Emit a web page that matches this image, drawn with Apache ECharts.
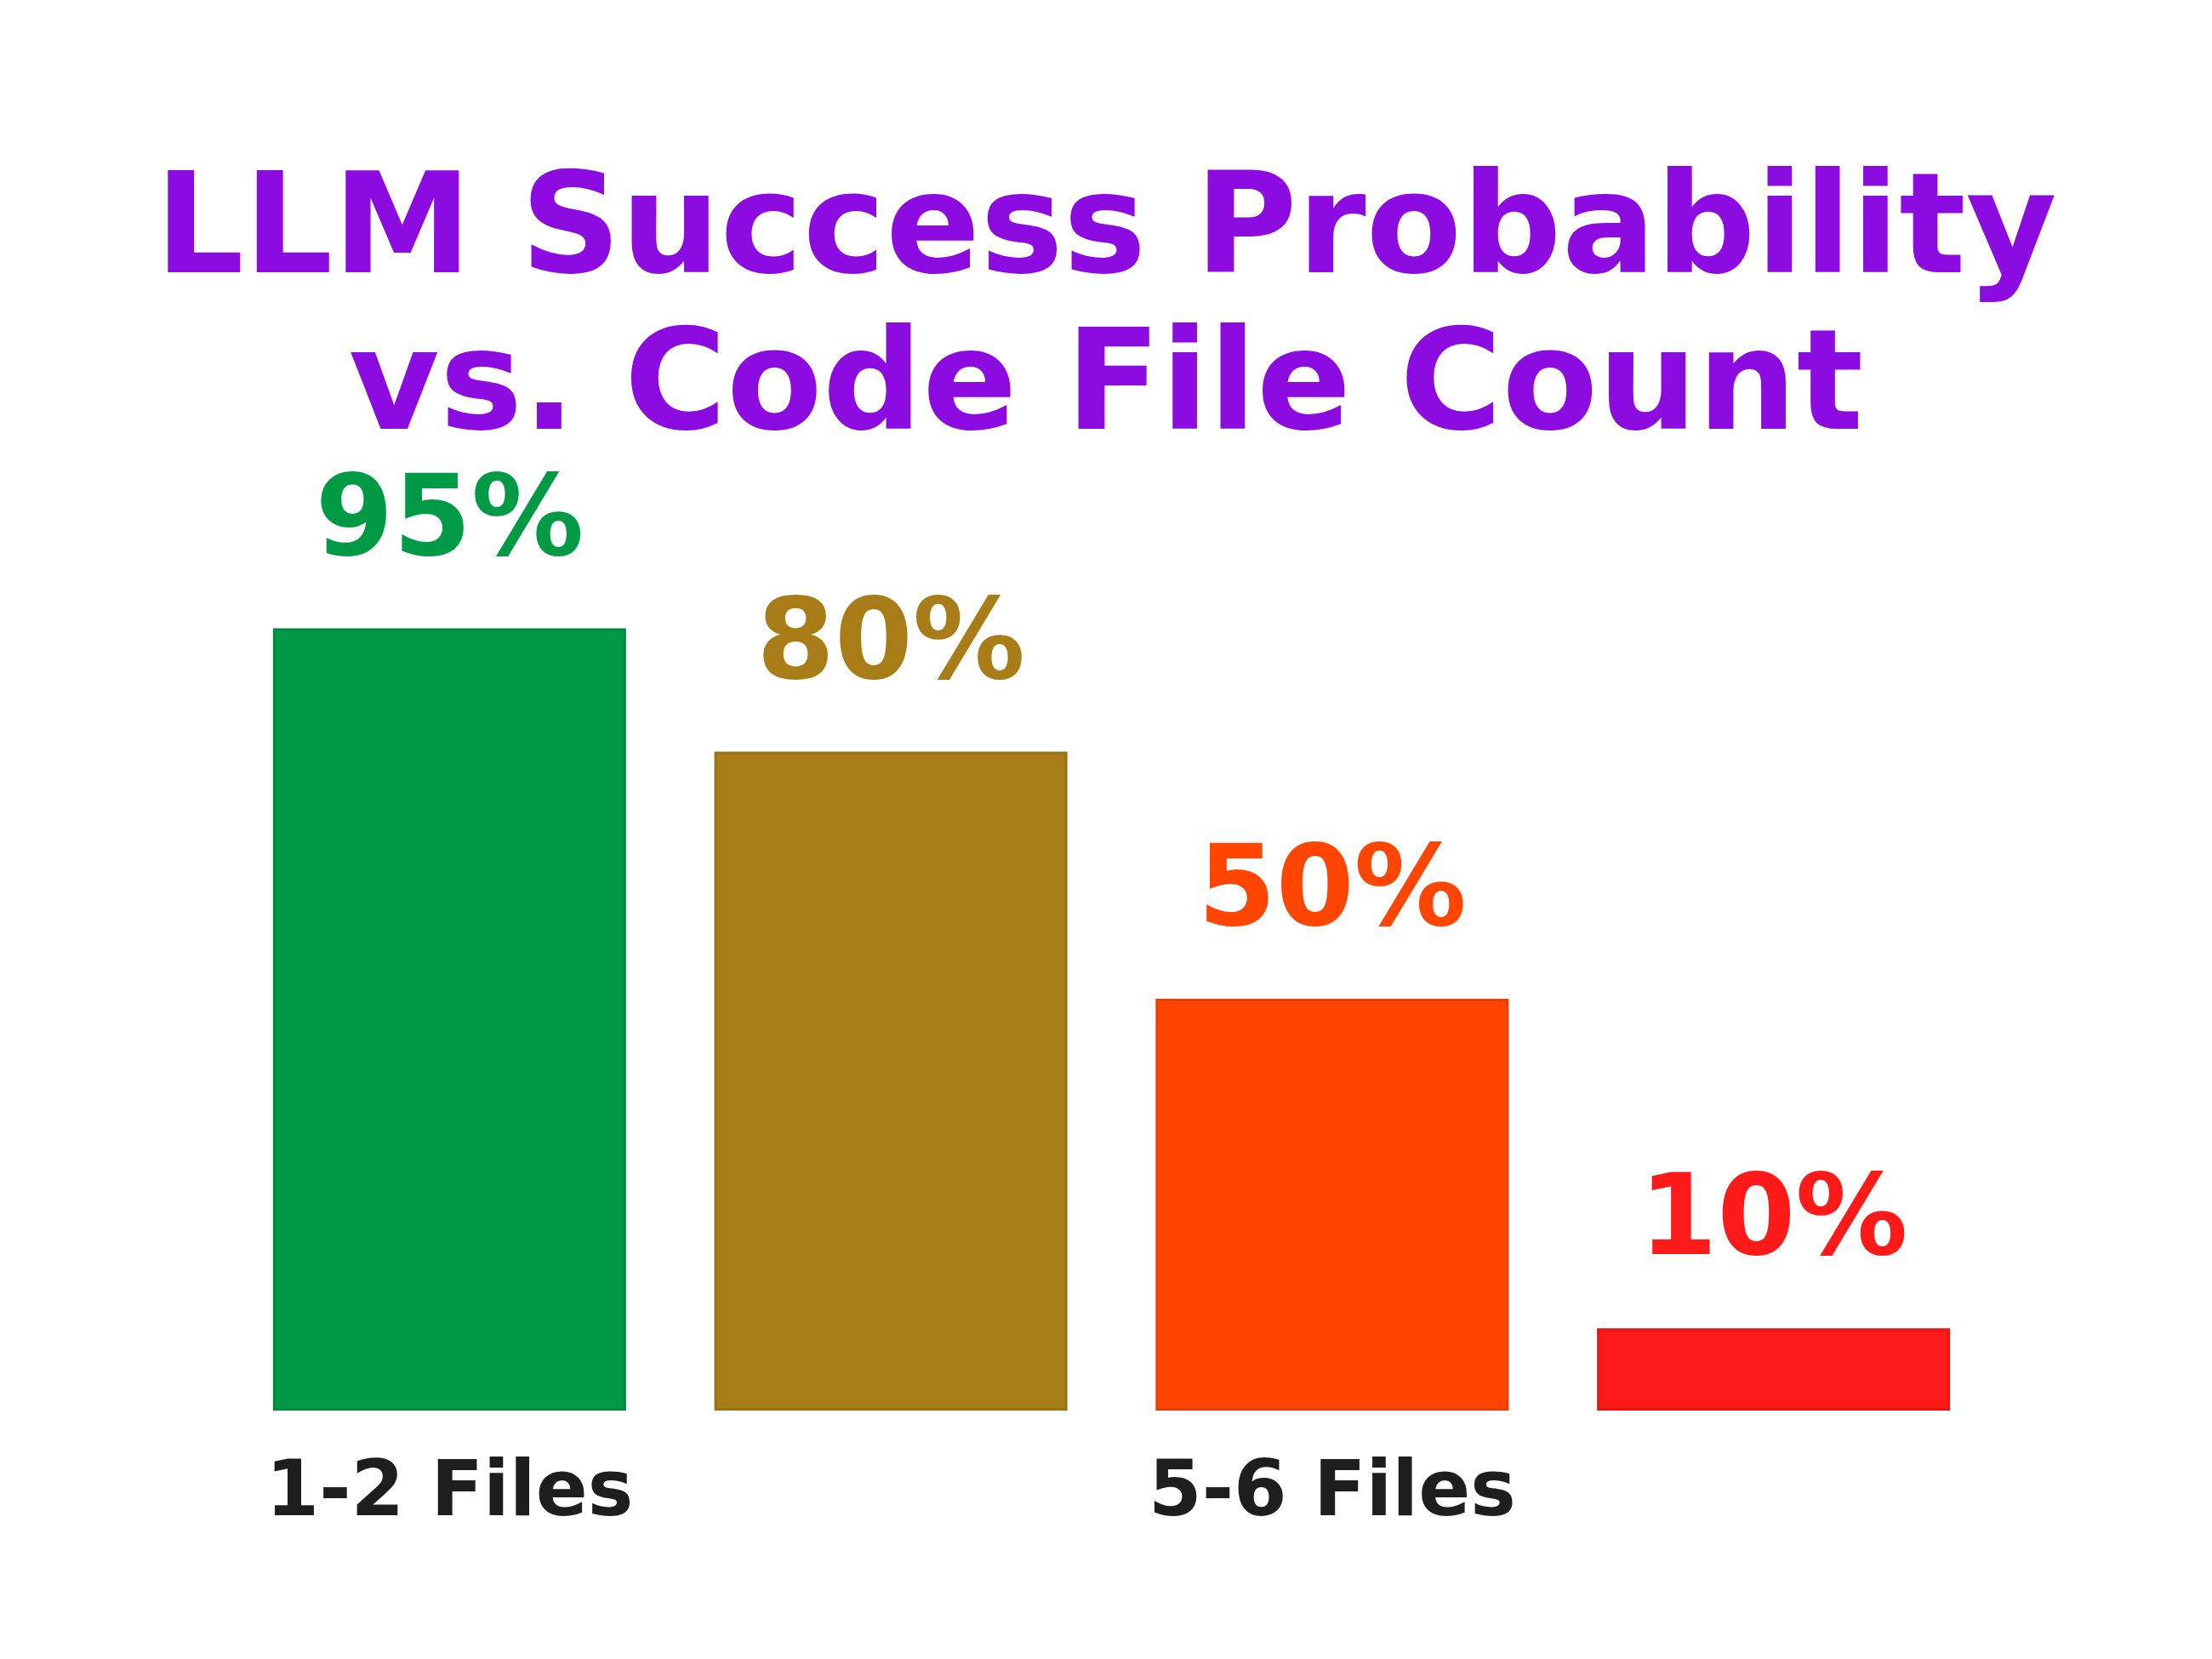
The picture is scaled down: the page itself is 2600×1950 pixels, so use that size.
<!DOCTYPE html>
<html>
<head>
<meta charset="utf-8">
<script src="https://cdn.jsdelivr.net/npm/echarts@6/dist/echarts.min.js"></script>
<style>html,body{margin:0;background:#fff}#chart{width:2600px;height:1950px}</style>
</head>
<body>
<div id="chart"></div>
<script>
var categories = ['1-2 Files', '3-4 Files', '5-6 Files', '20+ Files'];
var successValues = [95, 80, 50, 10];
var barColors = ['#009A47', '#A87D18', '#FF4500', '#FF1A1A'];
var borderColors = ['#008A40', '#987015', '#E83E00', '#E81515'];

var chart = echarts.init(document.getElementById('chart'));
var option = {
    backgroundColor: '#fff',
    title: {
        text: 'LLM Success Probability\nvs. Code File Count',
        left: 'center',
        top: 180,
        textStyle: {
            fontFamily: 'DejaVu Sans',
            fontWeight: 'bold',
            fontSize: 164,
            lineHeight: 184,
            color: '#8B0BE0'
        }
    },
    grid: { left: 269, right: 256, top: 690, bottom: 292 },
    xAxis: {
        type: 'category',
        data: categories,
        axisLine: { show: false },
        axisTick: { show: false },
        axisLabel: {
            margin: 55,
            fontFamily: 'DejaVu Sans',
            fontWeight: 'bold',
            fontSize: 90,
            color: '#1E1E1E'
        }
    },
    yAxis: { type: 'value', min: 0, max: 100, show: false },
    series: [{
        type: 'bar',
        barWidth: '80%',
        data: successValues.map(function (v, i) {
            return {
                value: v,
                itemStyle: { color: barColors[i], borderColor: borderColors[i], borderWidth: 3 },
                label: { color: barColors[i] }
            };
        }),
        label: {
            show: true,
            position: 'top',
            distance: 55,
            formatter: '{c}%',
            fontFamily: 'DejaVu Sans',
            fontWeight: 'bold',
            fontSize: 132
        }
    }]
};
chart.setOption(option);
window.onresize = chart.resize;
</script>
</body>
</html>
